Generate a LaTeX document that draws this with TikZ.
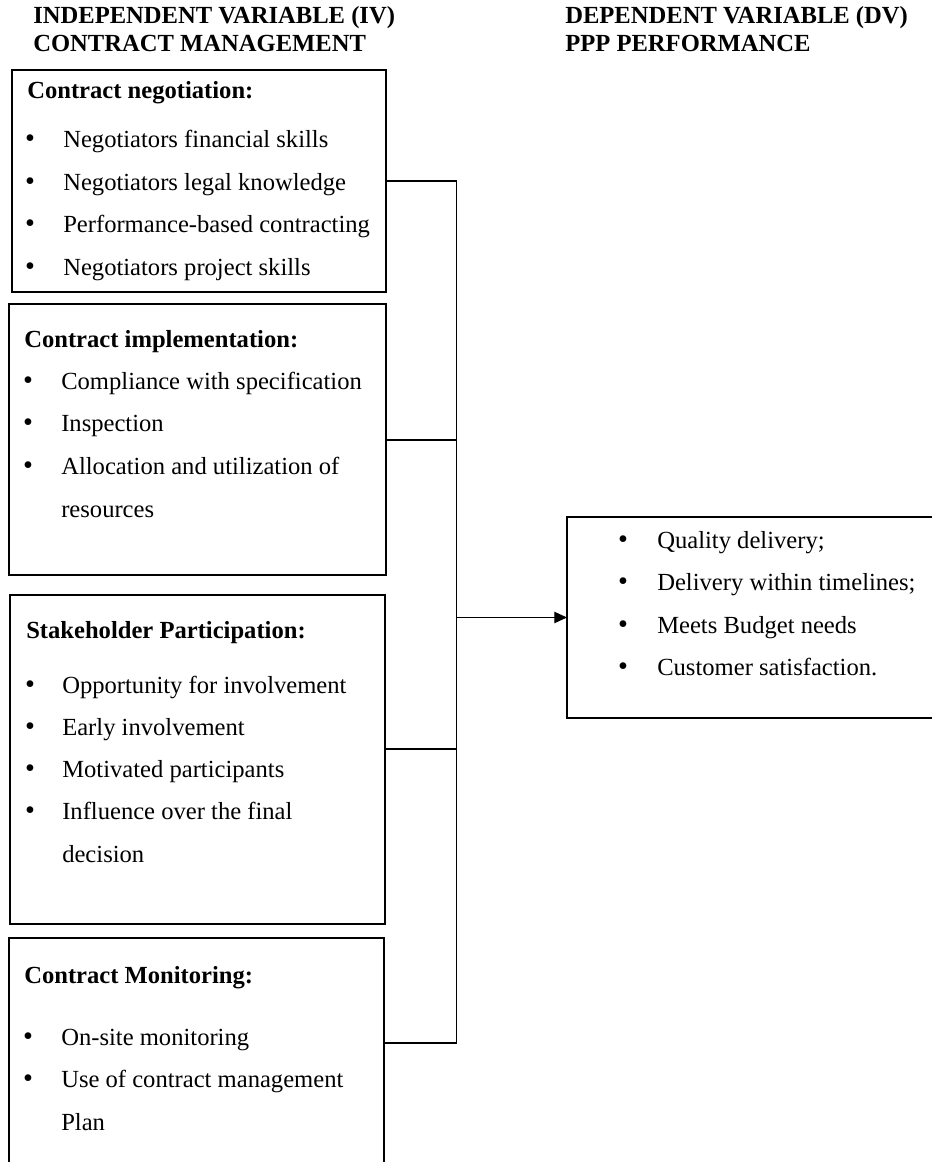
\documentclass[tikz,border=0pt]{standalone}
\usepackage{fontspec}
\setmainfont{Liberation Serif}
\usetikzlibrary{arrows.meta, positioning}

\begin{document}
\fontsize{18.45}{22}\selectfont
\begin{tikzpicture}[x=0.75pt, y=-0.75pt,
    box/.style={draw, line width=0.95pt, anchor=north west, inner sep=0pt, outer sep=0pt},
    head/.style={anchor=base west, inner sep=0pt, font=\bfseries},
    item/.style={anchor=base west, inner sep=0pt},
    dot/.style={anchor=base, inner sep=0pt, scale=1.15},
    link/.style={line width=0.95pt}]
\useasboundingbox (0,0) rectangle (931,1162);

% Column titles
\node[head] (ivtitle) at (33,24) {INDEPENDENT VARIABLE (IV)};
\node[head] (ivname) at (33,52) {CONTRACT MANAGEMENT};
\node[head] (dvtitle) at (565,24) {DEPENDENT VARIABLE (DV)};
\node[head] (dvname) at (565,52) {PPP PERFORMANCE};

% Contract negotiation
\node[box, minimum width=280.5pt, minimum height=166.5pt] (neg) at (12,70) {};
\node[head] (neghead) at (27,99) {Contract negotiation:};
\foreach \txt [count=\i] in {Negotiators financial skills, Negotiators legal knowledge, Performance-based contracting, Negotiators project skills} {
    \node[dot] (negdot\i) at (30,105.5+42.5*\i) {•};
    \node[item] (neg\i) at (63,105.5+42.5*\i) {\txt};
}

% Contract implementation
\node[box, minimum width=282.75pt, minimum height=203.25pt] (impl) at (9,304) {};
\node[head] (implhead) at (24,347) {Contract implementation:};
\foreach \txt [count=\i] in {Compliance with specification, Inspection, Allocation and utilization of} {
    \node[dot] (impldot\i) at (28,346.5+42.5*\i) {•};
    \node[item] (impl\i) at (61,346.5+42.5*\i) {\txt};
}
\node[item] (impl3b) at (61,517) {resources};

% Stakeholder participation
\node[box, minimum width=281.25pt, minimum height=246.75pt] (sp) at (10,595) {};
\node[head] (sphead) at (26,638) {Stakeholder Participation:};
\foreach \txt [count=\i] in {Opportunity for involvement, Early involvement, Motivated participants, Influence over the final} {
    \node[dot] (spdot\i) at (30,651+42*\i) {•};
    \node[item] (sp\i) at (62,651+42*\i) {\txt};
}
\node[item] (sp4b) at (62,862) {decision};

% Contract monitoring (runs past the page bottom)
\node[box, minimum width=281.25pt, minimum height=180pt] (mon) at (9,938) {};
\node[head] (monhead) at (24,983) {Contract Monitoring:};
\foreach \txt [count=\i] in {On-site monitoring, Use of contract management} {
    \node[dot] (mondot\i) at (28,1002.5+42.5*\i) {•};
    \node[item] (mon\i) at (61,1002.5+42.5*\i) {\txt};
}
\node[item] (mon2b) at (61,1130) {Plan};

% PPP performance (runs past the right edge)
\node[box, minimum width=283.5pt, minimum height=150.75pt] (out) at (567,517) {};
\foreach \txt [count=\i] in {Quality delivery;, Delivery within timelines;, Meets Budget needs, Customer satisfaction.} {
    \node[dot] (outdot\i) at (623,505.5+42.5*\i) {•};
    \node[item] (out\i) at (657,505.5+42.5*\i) {\txt};
}

% Bus joining the four boxes
\coordinate (j1) at (456.5,181);
\coordinate (j2) at (456.5,440);
\coordinate (j3) at (456.5,749);
\coordinate (j4) at (456.5,1043);
\coordinate (jm) at (j1 |- out.west);
\draw[link] (neg.east |- j1) -- (j1);
\draw[link] (impl.east |- j2) -- (j2);
\draw[link] (sp.east |- j3) -- (j3);
\draw[link] (mon.east |- j4) -- (j4);
\draw[link] (j1) -- (j4);

% Arrow to the dependent variable
\draw[link, -{Triangle[length=9.5pt, width=8.5pt]}] (jm) -- (out.west);
\end{tikzpicture}
\end{document}
